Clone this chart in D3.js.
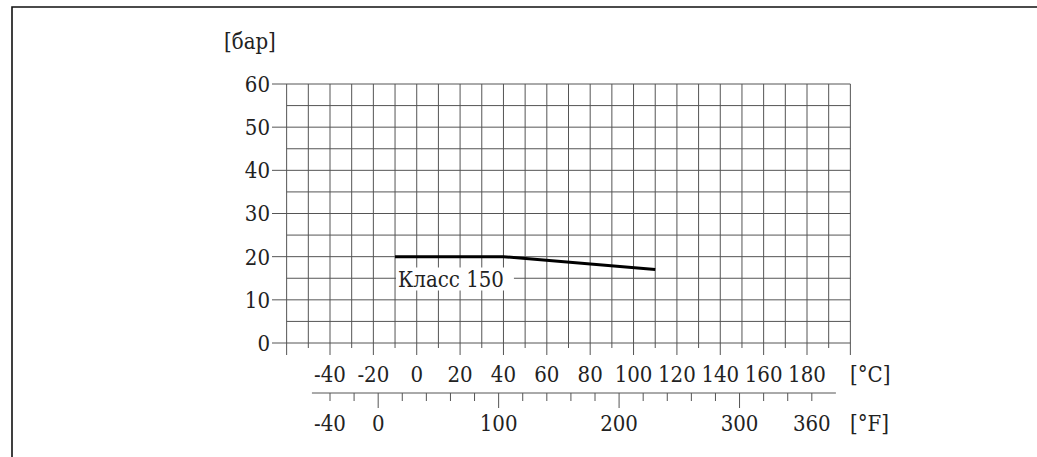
<!DOCTYPE html>
<html>
<head>
<meta charset="utf-8">
<script src="https://cdn.jsdelivr.net/npm/d3@7/dist/d3.min.js"></script>
<style>
  body { margin: 0; background: #fff; }
  svg text { font-family: "DejaVu Serif Condensed", "DejaVu Serif", serif; font-stretch: condensed; font-size: 22px; fill: #222; }
</style>
</head>
<body>
<div id="chart"></div>
<script>
// pressure rating curve, class 150
const tempC = [-10, 40, 110];
const pressureBar = [20, 20, 17];
const seriesLabel = "Класс 150";

const yTicks = [0, 10, 20, 30, 40, 50, 60];
const cTicks = [-40, -20, 0, 20, 40, 60, 80, 100, 120, 140, 160, 180];
const fTicks = [-40, 0, 100, 200, 300, 360];
const yUnit = "[бар]";
const cUnit = "[°C]";
const fUnit = "[°F]";

let width = 1037, height = 457;

const svg = d3.select("#chart").append("svg")
  .attr("width", width)
  .attr("height", height);

// frame
svg.append("path")
  .attr("d", `M12,${height} L12,7 L${width},7`)
  .attr("fill", "none")
  .attr("stroke", "#111")
  .attr("stroke-width", 1.6);

let x = d3.scaleLinear().domain([-40, 180]).range([330, 807]);
let y = d3.scaleLinear().domain([0, 60]).range([343, 84]);
const f2c = f => (f - 32) / 1.8;

const gridColor = "#555";

// horizontal grid every 5 bar
const g = svg.append("g").attr("stroke", gridColor).attr("stroke-width", 1);
d3.range(0, 61, 5).forEach(v => {
  g.append("line")
    .attr("x1", v % 10 == 0 ? 272 : x(-60))
    .attr("x2", x(200))
    .attr("y1", y(v)).attr("y2", y(v));
});

// vertical grid every 10 °C, ticks below the 0 line
d3.range(-60, 201, 10).forEach(v => {
  g.append("line")
    .attr("x1", x(v)).attr("x2", x(v))
    .attr("y1", y(60))
    .attr("y2", y(0) + (v % 20 == 0 ? 12 : 5));
});

// y labels
svg.selectAll("text.ylab")
  .data(yTicks)
  .enter()
  .append("text")
  .attr("class", "ylab")
  .attr("x", 270)
  .attr("y", d => y(d))
  .attr("dy", "0.36em")
  .attr("text-anchor", "end")
  .text(d => d);

svg.append("text")
  .attr("x", 224).attr("y", 49)
  .text(yUnit);

// celsius labels
svg.selectAll("text.clab")
  .data(cTicks)
  .enter()
  .append("text")
  .attr("class", "clab")
  .attr("x", d => x(d))
  .attr("y", 382)
  .attr("text-anchor", "middle")
  .text(d => d);

svg.append("text").attr("x", 850).attr("y", 382).text(cUnit);

// fahrenheit axis
const fy = 393;
g.append("line")
  .attr("x1", x(f2c(-55))).attr("x2", x(f2c(380)))
  .attr("y1", fy).attr("y2", fy);

d3.range(-40, 361, 20).forEach(v => {
  g.append("line")
    .attr("x1", x(f2c(v))).attr("x2", x(f2c(v)))
    .attr("y1", fy)
    .attr("y2", fy + (v % 100 == 0 ? 15 : 8));
});

svg.selectAll("text.flab")
  .data(fTicks)
  .enter()
  .append("text")
  .attr("class", "flab")
  .attr("x", d => x(f2c(d)))
  .attr("y", 431)
  .attr("text-anchor", "middle")
  .text(d => d);

svg.append("text").attr("x", 850).attr("y", 431).text(fUnit);

// label with white background
const lab = svg.append("g");
const labText = lab.append("text")
  .attr("x", 398).attr("y", 286.5)
  .text(seriesLabel);
const bb = labText.node().getBBox();
lab.insert("rect", "text")
  .attr("x", bb.x - 2).attr("y", bb.y + 1)
  .attr("width", bb.width + 12).attr("height", bb.height - 2)
  .attr("fill", "#fff");

// curve
const pts = tempC.map((t, i) => [t, pressureBar[i]]);
svg.append("path")
  .datum(pts)
  .attr("d", d3.line().x(d => x(d[0])).y(d => y(d[1])))
  .attr("fill", "none")
  .attr("stroke", "#000")
  .attr("stroke-width", 3);
</script>
</body>
</html>
